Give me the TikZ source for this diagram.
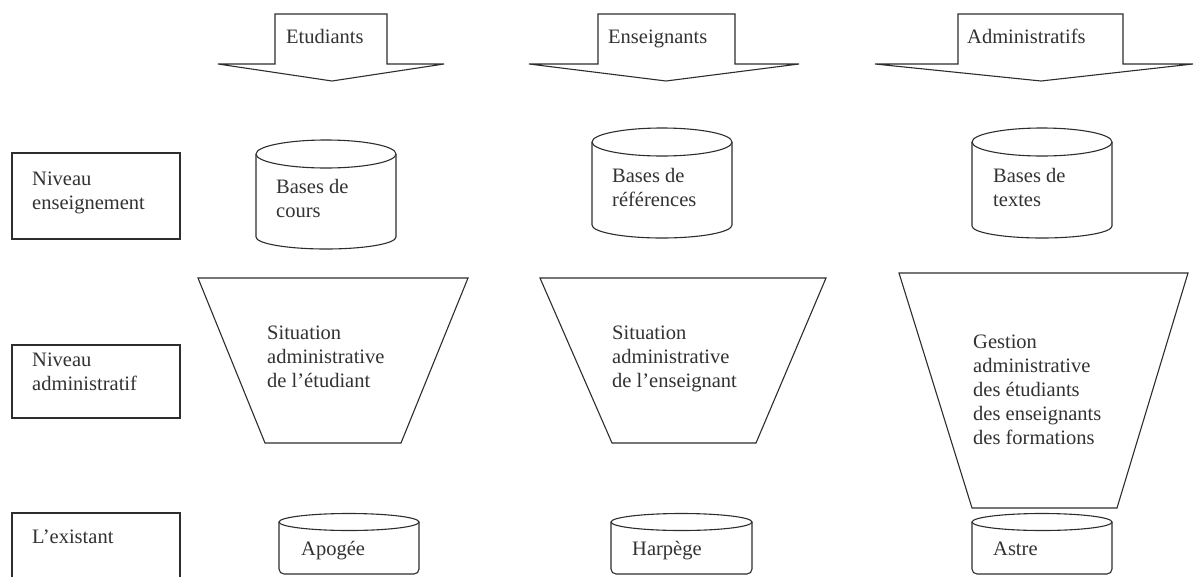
\documentclass[tikz,border=0pt]{standalone}
\usepackage{fontspec}
\setmainfont{Liberation Serif}
\definecolor{inkc}{RGB}{45,45,45}
\definecolor{textc}{RGB}{50,50,50}
\tikzset{
  shapeline/.style={draw=inkc, line width=1.1pt, line join=miter},
  lbl/.style={anchor=base west, inner sep=0pt, align=left, text=textc,
              font=\fontsize{20.5}{24}\selectfont},
}
\newcommand{\mycyl}[6]{% x1, x2, top center y, top ry, side bottom y, bottom ry
  \draw[shapeline] ({(#1+#2)/2},#3) ellipse [x radius={(#2-#1)/2*1pt}, y radius=#4pt];
  \draw[shapeline] (#1,#3) -- (#1,#5) arc [start angle=180, end angle=360, x radius={(#2-#1)/2*1pt}, y radius=#6pt] -- (#2,#3);
}
\newcommand{\mylowcyl}[2]{% x1, x2
  \draw[shapeline] ({(#1+#2)/2},522) ellipse [x radius={(#2-#1)/2*1pt}, y radius=8.5pt];
  \draw[shapeline, rounded corners=5pt] (#1,522) -- (#1,574) -- (#2,574) -- (#2,522);
}
\newcommand{\myarrow}[5]{% wing left, rect left, rect right, wing right, tip x
  \draw[shapeline] (#1,64) -- (#2,64) -- (#2,14) -- (#3,14) -- (#3,64) -- (#4,64) -- (#5,81) -- cycle;
}
\begin{document}
\begin{tikzpicture}[x=1pt,y=-1pt]
\useasboundingbox (0,0) rectangle (1194,576);
% top arrows
\myarrow{218}{275}{387}{444}{332}
\myarrow{529}{598}{735}{799}{666}
\myarrow{875}{958}{1123}{1193}{1041}
\node[lbl] (tEtud) at (286,43) {Etudiants};
\node[lbl] (tEns) at (608,43) {Enseignants};
\node[lbl] (tAdm) at (967,43) {Administratifs};
% left boxes
\draw[shapeline] (12,153) rectangle (180,239);
\draw[shapeline] (12,345) rectangle (180,418);
\draw[shapeline] (12,578) -- (12,513) -- (180,513) -- (180,578);
\node[lbl] (lEns) at (32,209) {Niveau\\enseignement};
\node[lbl] (lAdm) at (32,390) {Niveau\\administratif};
\node[lbl] (lExi) at (32,543) {L’existant};
% upper cylinders
\mycyl{256}{396}{154}{14}{237}{12}
\mycyl{592}{732}{142}{14}{225}{13}
\mycyl{972}{1112}{142}{14}{226}{12}
\node[lbl] (cCours) at (276,217) {Bases de\\cours};
\node[lbl] (cRef) at (612,206) {Bases de\\références};
\node[lbl] (cTxt) at (993,206) {Bases de\\textes};
% trapezoids
\draw[shapeline] (198,278) -- (468,278) -- (401,443) -- (265,443) -- cycle;
\draw[shapeline] (540,278) -- (826,278) -- (756,443) -- (612,443) -- cycle;
\draw[shapeline] (899,273) -- (1188,273) -- (1117,508) -- (972,508) -- cycle;
\node[lbl] (sEtu) at (267,387) {Situation\\administrative\\de l’étudiant};
\node[lbl] (sEns) at (612,387) {Situation\\administrative\\de l’enseignant};
\node[lbl] (sGes) at (973,444) {Gestion\\administrative\\des étudiants\\des enseignants\\des formations};
% lower cylinders
\mylowcyl{279}{419}
\mylowcyl{611}{752}
\mylowcyl{972}{1112}
\node[lbl] (bApo) at (301,555) {Apogée};
\node[lbl] (bHar) at (632,555) {Harpège};
\node[lbl] (bAst) at (993,555) {Astre};
\end{tikzpicture}
\end{document}
